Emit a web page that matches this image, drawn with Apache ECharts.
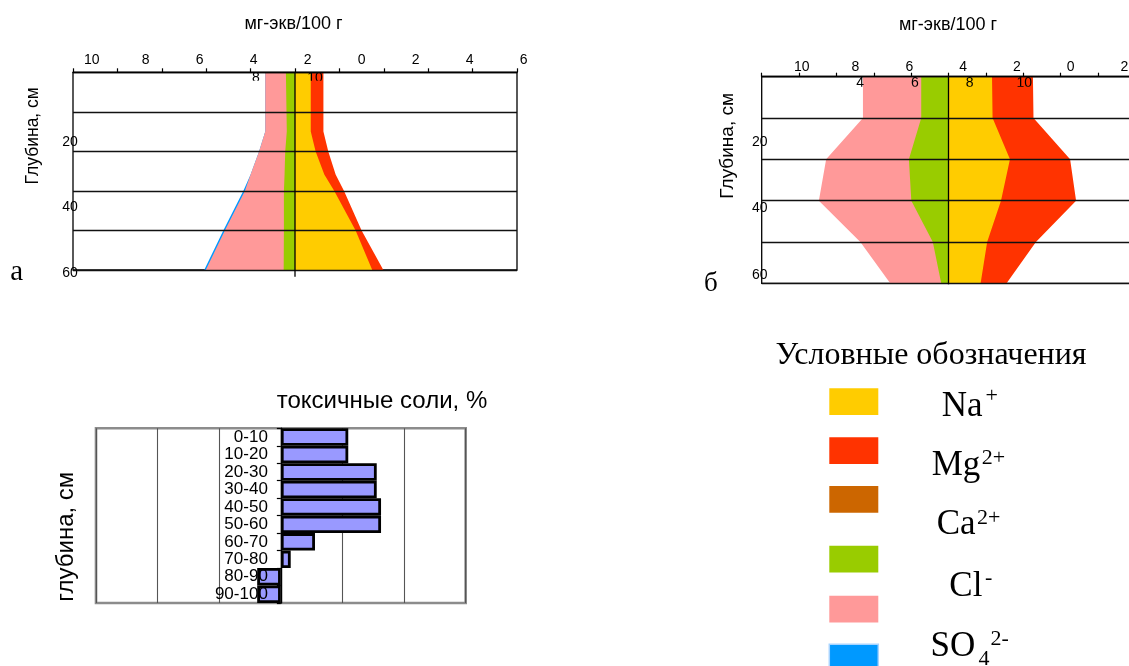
<!DOCTYPE html>
<html>
<head>
<meta charset="utf-8">
<script src="https://cdn.jsdelivr.net/npm/echarts@6/dist/echarts.min.js"></script>
<style>
  html, body { margin: 0; padding: 0; background: #fff; }
  #chart { width: 1129px; height: 666px; }
</style>
</head>
<body>
<div id="chart"></div>
<script>
// ---------- Profile "а": soluble ions, mg-eq/100 g, by depth (cm) ----------
const depthA = [0, 18, 24, 31, 36, 48, 60];
const clA    = [0.41, 0.37, 0.44, 0.47, 0.50, 0.50, 0.51];
const so4A   = [0.93, 0.97, 1.18, 1.53, 1.76, 2.66, 3.51];
const hco3A  = [0, 0, 0, 0, 0.07, 0.07, 0.07];
const naA    = [0.71, 0.71, 0.93, 1.32, 1.77, 2.73, 3.48];
const mgA    = [0.57, 0.57, 0.57, 0.51, 0.44, 0.27, 0.50];
const caA    = [0, 0, 0, 0, 0, 0, 0];

// ---------- Profile "б" ----------
const depthB = [0, 12, 24, 36, 48, 60];
const clB    = [1.46, 1.46, 2.12, 1.99, 0.84, 0.39];
const so4B   = [3.12, 3.12, 4.43, 4.95, 3.88, 2.73];
const hco3B  = [0, 0, 0, 0, 0, 0];
const naB    = [2.33, 2.36, 3.29, 2.81, 2.07, 1.72];
const mgB    = [2.19, 2.19, 3.22, 4.02, 2.61, 1.39];
const caB    = [0, 0, 0, 0, 0, 0];

// ---------- Tick labels ----------
const topTickLabels   = [10, 8, 6, 4, 2, 0, 2, 4, 6];
const depthTickLabels = [20, 40, 60];
const innerLabelsA    = [8, 10];
const innerLabelsB    = [4, 6, 8, 10];

// ---------- Toxic salts, % ----------
const saltCats = ['0-10', '10-20', '20-30', '30-40', '40-50', '50-60', '60-70', '70-80', '80-90', '90-100'];
const saltVals = [0.547, 0.547, 0.778, 0.778, 0.813, 0.813, 0.277, 0.080, -0.192, -0.192];

// ---------- Legend ----------
const legendIons = [
  { base: 'Na', sup: '+' },
  { base: 'Mg', sup: '2+' },
  { base: 'Ca', sup: '2+' },
  { base: 'Cl', sup: '-' },
  { base: 'SO', sub: '4', sup: '2-' }
];

// ---------- Styles ----------
const COLORS = { na: '#FFCC00', mg: '#FF3300', ca: '#CC6600', cl: '#99CC00', so4: '#FF9999', hco3: '#0099FF' };
const FONT_SANS   = '"Liberation Sans", Arial, sans-serif';
const FONT_NARROW = '"Liberation Sans Narrow", "Liberation Sans", Arial, sans-serif';
const FONT_SERIF  = '"Liberation Serif", "Times New Roman", serif';

// Stack ion widths outward from the zero line; outermost layer is drawn first
function buildLayers(depth, anions, cations) {
  const stack = (parts, sign) => {
    let cum = depth.map(() => 0);
    const layers = [];
    parts.forEach(p => {
      cum = cum.map((c, i) => c + p.values[i]);
      if (p.values.some(v => v > 0)) layers.push({ edge: cum.map(c => sign * c), color: p.color });
    });
    return layers.reverse();
  };
  return stack(anions, -1).concat(stack(cations, 1));
}

const layersA = buildLayers(depthA,
  [{ values: clA, color: COLORS.cl }, { values: so4A, color: COLORS.so4 }, { values: hco3A, color: COLORS.hco3 }],
  [{ values: naA, color: COLORS.na }, { values: mgA, color: COLORS.mg }, { values: caA, color: COLORS.ca }]);
const layersB = buildLayers(depthB,
  [{ values: clB, color: COLORS.cl }, { values: so4B, color: COLORS.so4 }, { values: hco3B, color: COLORS.hco3 }],
  [{ values: naB, color: COLORS.na }, { values: mgB, color: COLORS.mg }, { values: caB, color: COLORS.ca }]);

function bandSeries(axisIndex, depth, layers) {
  return {
    type: 'custom', xAxisIndex: axisIndex, yAxisIndex: axisIndex, silent: true, clip: true, z: 2,
    data: layers.map((l, i) => [i, 0]),
    renderItem: (params, api) => {
      const layer = layers[params.dataIndex];
      const pts = layer.edge.map((x, i) => api.coord([x, depth[i]]));
      pts.push(api.coord([0, depth[depth.length - 1]]));
      pts.push(api.coord([0, depth[0]]));
      return { type: 'polygon', shape: { points: pts }, style: { fill: layer.color } };
    }
  };
}

// Zero line between anions and cations
function centerLineSeries(axisIndex, depth, overshoot) {
  return {
    type: 'custom', xAxisIndex: axisIndex, yAxisIndex: axisIndex, silent: true, clip: false, z: 6,
    data: [[0, 0]],
    renderItem: (params, api) => {
      const top = api.coord([0, depth[0]]);
      const bot = api.coord([0, depth[depth.length - 1]]);
      return { type: 'line', shape: { x1: top[0], y1: top[1], x2: bot[0], y2: bot[1] + overshoot },
               style: { stroke: '#000', lineWidth: 1.3 } };
    }
  };
}

// Second scale labels, cut off by the strip just under the top axis
function innerLabelSeries(axisIndex, values, dy) {
  return {
    type: 'custom', xAxisIndex: axisIndex, yAxisIndex: axisIndex, silent: true, clip: true, z: 7,
    data: values.map(v => [v, 1]),
    renderItem: (params, api) => {
      const v = api.value(0);
      const p = api.coord([v, api.value(1)]);
      return { type: 'text', x: p[0], y: p[1] + dy,
        style: { text: String(v), fill: '#000', fontSize: 14, fontFamily: FONT_NARROW,
                 textAlign: 'center', textVerticalAlign: 'middle', align: 'center', verticalAlign: 'middle' } };
    }
  };
}

function grid(left, top, width, height, extra) {
  return Object.assign({ left, top, width, height, containLabel: false, outerBoundsMode: 'none' }, extra || {});
}
const frame = (color, w) => ({ show: true, borderColor: color, borderWidth: w, backgroundColor: 'rgba(0,0,0,0)' });

function ionX(gridIndex) {
  return { type: 'value', gridIndex, position: 'top', min: -10, max: 10, interval: 2, z: 5,
    axisLine: { show: true, onZero: false, lineStyle: { color: '#000', width: 1.3 } },
    axisTick: { show: true, inside: false, length: 4, lineStyle: { color: '#000', width: 1.2 } },
    axisLabel: { show: false }, splitLine: { show: false } };
}
function ionY(gridIndex, depth) {
  return { type: 'value', gridIndex, inverse: true, min: depth[0], max: depth[depth.length - 1], interval: 12, z: 5,
    axisLine: { show: false }, axisTick: { show: false }, axisLabel: { show: false },
    splitLine: { show: true, lineStyle: { color: '#111', width: 1.3 } } };
}
function topLabelX(gridIndex, margin) {
  return { type: 'value', gridIndex, position: 'top', min: -10, max: 6, interval: 2,
    axisLine: { show: false }, axisTick: { show: false }, splitLine: { show: false },
    axisLabel: { show: true, margin, color: '#000', fontSize: 14, fontFamily: FONT_NARROW,
      showMinLabel: true, showMaxLabel: true, formatter: (v, i) => String(topTickLabels[i]) } };
}
function depthLabelY(gridIndex, margin) {
  return { type: 'value', gridIndex, inverse: true, min: 0, max: 60, interval: 20,
    axisLine: { show: false }, axisTick: { show: false }, splitLine: { show: false },
    axisLabel: { show: true, margin, align: 'center', color: '#000', fontSize: 14, fontFamily: FONT_NARROW,
      showMinLabel: true, showMaxLabel: true,
      formatter: v => (depthTickLabels.indexOf(v) >= 0 ? String(v) : '') } };
}
const hidden = (gridIndex, min, max, extra) => Object.assign({ type: 'value', gridIndex, min, max, show: false }, extra || {});

// ---------- Text helpers ----------
function T(text, x, y, size, family, align, rotation) {
  return { type: 'text', x, y, rotation: rotation || 0, silent: true, z: 20,
    style: { text, fill: '#000', fontSize: size, fontFamily: family,
             textAlign: align, textVerticalAlign: 'middle', align, verticalAlign: 'middle' } };
}
const mid = (baseline, size) => baseline - 0.34 * size;

const graphics = [
  T('мг-экв/100 г', 293.5, mid(30, 18), 18, FONT_SANS, 'center'),
  T('мг-экв/100 г', 948, mid(31, 18), 18, FONT_SANS, 'center'),
  T('Глубина, см', 33, 135.8, 17.5, FONT_SANS, 'center', Math.PI / 2),
  T('Глубина, см', 727.4, 145.8, 19, FONT_SANS, 'center', Math.PI / 2),
  T('а', 16.7, mid(282.7, 29), 29, FONT_SERIF, 'center'),
  T('б', 710.8, mid(293.3, 27), 27, FONT_SERIF, 'center'),
  T('токсичные соли, %', 382, mid(409.3, 24), 24, FONT_SANS, 'center'),
  T('глубина, см', 66.7, 536.7, 24, FONT_SANS, 'center', Math.PI / 2),
  T('Условные обозначения', 931, mid(366, 32), 32, FONT_SERIF, 'center')
];

// Legend swatches
const swatchColors = [COLORS.na, COLORS.mg, COLORS.ca, COLORS.cl, COLORS.so4, COLORS.hco3];
const swatchTops = [388.3, 437.3, 486, 545.7, 595.7, 644.3];
swatchColors.forEach((c, i) => {
  graphics.push({ type: 'rect', silent: true, z: 20,
    shape: { x: 829.3, y: swatchTops[i], width: 49, height: 26.7 },
    style: { fill: c, stroke: i === 5 ? '#a8d4ff' : null, lineWidth: i === 5 ? 1.5 : 0 } });
});

// Legend ion labels with super- and subscripts
const labelX = [941.7, 931.7, 936.7, 949.3, 930.5];
const labelBase = [418.3, 477.7, 536.7, 598.3, 658.3];
const supX = [985.5, 981.7, 977, 985, 990.5];
const supY = [396.7, 458.3, 518.3, 578.3, 639];
legendIons.forEach((ion, i) => {
  graphics.push(T(ion.base, labelX[i], mid(labelBase[i], 35), 35, FONT_SERIF, 'left'));
  if (ion.sub) graphics.push(T(ion.sub, 978.5, 659, 22, FONT_SERIF, 'left'));
  graphics.push(T(ion.sup, supX[i], supY[i], 22, FONT_SERIF, 'left'));
});

const option = {
  animation: false,
  backgroundColor: '#fff',
  grid: [
    grid(73, 72.3, 444, 197.7, frame('#000', 1.3)),      // 0 profile а
    grid(91.7, 72.3, 432, 197.7),                         // 1 top labels а
    grid(73, 75.9, 444, 197.4),                           // 2 depth labels а
    grid(73, 72.3, 444, 8.4),                             // 3 inner labels а
    grid(761.7, 76.7, 373.6, 206.6, frame('#000', 1.3)),  // 4 profile б
    grid(801.7, 76.7, 430.4, 206.6),                      // 5 top labels б
    grid(761.7, 75.5, 373.6, 199.5),                      // 6 depth labels б
    grid(761.7, 76.7, 373.6, 10),                         // 7 inner labels б
    grid(96, 428.3, 369.7, 174.7, frame('#8c8c8c', 2.6)), // 8 toxic salts
    grid(280.85, 428.3, 184.85, 174.7)                    // 9 depth categories on the zero line
  ],
  xAxis: [
    ionX(0),
    topLabelX(1, 5.3),
    hidden(2, -10, 10),
    hidden(3, 1.8, 16.85),
    ionX(4),
    topLabelX(5, 3),
    hidden(6, -10, 10),
    hidden(7, 0.41, 14.05),
    { type: 'value', gridIndex: 8, min: -1.5, max: 1.5, interval: 0.5,
      axisLine: { show: false }, axisTick: { show: false }, axisLabel: { show: false },
      splitLine: { show: true, lineStyle: { color: '#555', width: 1.1 } } },
    hidden(9, 0, 1.5)
  ],
  yAxis: [
    ionY(0, depthA),
    hidden(1, 0, 60, { inverse: true }),
    depthLabelY(2, 3),
    hidden(3, 0, 1),
    ionY(4, depthB),
    hidden(5, 0, 60, { inverse: true }),
    depthLabelY(6, 2),
    hidden(7, 0, 1),
    { type: 'category', gridIndex: 8, inverse: true, data: saltCats, show: false },
    { type: 'category', gridIndex: 9, inverse: true, data: saltCats, z: 3,
      axisLine: { show: true, onZero: false, lineStyle: { color: '#000', width: 1.4 } },
      axisTick: { show: true, inside: false, length: 4, lineStyle: { color: '#000', width: 1.2 } },
      axisLabel: { show: true, interval: 0, margin: 13, color: '#000', fontSize: 17, fontFamily: FONT_SANS },
      splitLine: { show: false } }
  ],
  series: [
    bandSeries(0, depthA, layersA),
    centerLineSeries(0, depthA, 6.7),
    innerLabelSeries(3, innerLabelsA, 6),
    bandSeries(4, depthB, layersB),
    centerLineSeries(4, depthB, 1),
    innerLabelSeries(7, innerLabelsB, 6.6),
    { type: 'bar', xAxisIndex: 8, yAxisIndex: 8, data: saltVals, silent: true,
      barCategoryGap: '0%', barGap: '0%',
      itemStyle: { color: '#9999FF', borderColor: '#000', borderWidth: 2.8 } }
  ],
  graphic: { elements: graphics }
};

const chart = echarts.init(document.getElementById('chart'), null, { renderer: 'canvas' });
chart.setOption(option);
</script>
</body>
</html>
